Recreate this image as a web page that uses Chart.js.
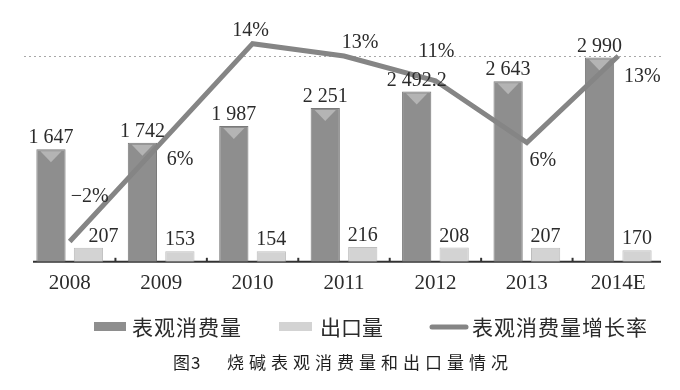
<!DOCTYPE html>
<html>
<head>
<meta charset="utf-8">
<script src="https://cdn.jsdelivr.net/npm/chart.js@4.4.1/dist/chart.umd.min.js"></script>
<style>
  html, body { margin: 0; padding: 0; background: #fff; }
  #wrap { width: 680px; height: 390px; }
</style>
</head>
<body>
<div id="wrap"><canvas id="chart"></canvas></div>
<script>
// 烧碱表观消费量和出口量 (万t) 及表观消费量增长率 (%)
const years = ['2008', '2009', '2010', '2011', '2012', '2013', '2014E'];
const consumption = [1647, 1742, 1987, 2251, 2492.2, 2643, 2990];
const exportVol = [207, 153, 154, 216, 208, 207, 170];
const growth = [-2, 6, 14, 13, 11, 6, 13];

const seriesNames = ['表观消费量', '出口量', '表观消费量增长率'];
const caption = ['图3', '烧碱表观消费量和出口量情况'];

const TEXT = '#2b2b2b';
const DARK = '#8e8e8e';
const LIGHT = '#d3d3d3';
const LINE = '#858585';

// 1 647 / 2 492.2 style
const fmt = v => {
    const parts = String(v).split('.');
    parts[0] = parts[0].replace(/\B(?=(\d{3})+(?!\d))/g, ' ');
    return parts.join('.');
};
const fmtPct = v => (v < 0 ? '\u2212' + Math.abs(v) : v) + '%';

// hand placed percent labels, offset from the point
const pctOffsets = [[20, -47], [19, 15], [-2, -15], [16, -15], [1, -31], [16, 16], [24, 19]];

const drawSpaced = (ctx, text, x, y, spacing) => {
    for (const ch of text) {
        ctx.fillText(ch, x, y);
        x += ctx.measureText(ch).width + spacing;
    }
    return x;
};

const decorPlugin = {
    id: 'decor',
    beforeDatasetsDraw(chart) {
        const ctx = chart.ctx;
        const xs = chart.scales.x;
        const base = chart.chartArea.bottom;
        ctx.save();
        // axis line
        ctx.strokeStyle = '#333';
        ctx.lineWidth = 2;
        ctx.beginPath();
        ctx.moveTo(33, base);
        ctx.lineTo(661, base);
        ctx.stroke();
        // small marks between categories
        for (let i = 0; i < years.length - 1; i++) {
            const x = (xs.getPixelForValue(i) + xs.getPixelForValue(i + 1)) / 2;
            ctx.beginPath();
            ctx.moveTo(x, base);
            ctx.lineTo(x, base - 4);
            ctx.stroke();
        }
        ctx.restore();
    },
    afterDatasetsDraw(chart) {
        const ctx = chart.ctx;
        ctx.save();
        ctx.fillStyle = TEXT;
        ctx.font = '20px "Liberation Serif"';
        ctx.textAlign = 'center';
        ctx.textBaseline = 'alphabetic';
        [0, 1].forEach(di => {
            chart.getDatasetMeta(di).data.forEach((bar, i) => {
                const v = chart.data.datasets[di].data[i];
                const dx = (di === 1 && i === 0) ? 15 : 0;
                ctx.fillText(fmt(v), bar.x + dx, bar.y - 6);
            });
        });
        chart.getDatasetMeta(2).data.forEach((pt, i) => {
            const [dx, dy] = pctOffsets[i];
            ctx.fillText(fmtPct(growth[i]), pt.x + dx, pt.y + dy + 7);
        });
        ctx.restore();
    },
    afterDraw(chart) {
        const ctx = chart.ctx;
        ctx.save();
        // legend
        const ly = 327;
        ctx.fillStyle = DARK;
        ctx.fillRect(94, ly - 5, 32, 9);
        ctx.fillStyle = LIGHT;
        ctx.fillRect(279, ly - 5, 33, 9);
        ctx.strokeStyle = LINE;
        ctx.lineWidth = 5;
        ctx.lineCap = 'round';
        ctx.beginPath();
        ctx.moveTo(432, ly);
        ctx.lineTo(466, ly);
        ctx.stroke();
        ctx.fillStyle = TEXT;
        ctx.font = '21px "Noto Sans CJK SC"';
        ctx.textAlign = 'left';
        ctx.textBaseline = 'middle';
        drawSpaced(ctx, seriesNames[0], 132, ly, 1);
        drawSpaced(ctx, seriesNames[1], 320, ly, 0);
        drawSpaced(ctx, seriesNames[2], 472, ly, 1);
        // caption
        ctx.font = '17px "Noto Sans CJK SC"';
        ctx.fillStyle = '#1f1f1f';
        drawSpaced(ctx, caption[0], 173, 363, 1);
        drawSpaced(ctx, caption[1], 227, 363, 5);
        ctx.restore();
    }
};

// light notch at the top of the dark bars, as in the printed figure
const notchPlugin = {
    id: 'notch',
    afterDatasetDraw(chart, args) {
        if (args.index !== 0) return;
        const ctx = chart.ctx;
        ctx.save();
        ctx.fillStyle = '#b4b4b4';
        args.meta.data.forEach(bar => {
            const half = bar.width / 2;
            ctx.beginPath();
            ctx.moveTo(bar.x - half + 4, bar.y + 2);
            ctx.lineTo(bar.x + half - 4, bar.y + 2);
            ctx.lineTo(bar.x, bar.y + 13);
            ctx.closePath();
            ctx.fill();
        });
        ctx.restore();
    }
};

new Chart(document.getElementById('chart'), {
    type: 'bar',
    data: {
        labels: years,
        datasets: [
            {
                label: seriesNames[0],
                data: consumption,
                backgroundColor: DARK,
                borderColor: '#7a7a7a',
                borderWidth: 1,
                yAxisID: 'y',
                order: 2
            },
            {
                label: seriesNames[1],
                data: exportVol,
                backgroundColor: LIGHT,
                borderColor: '#bdbdbd',
                borderWidth: 1,
                yAxisID: 'y',
                order: 2
            },
            {
                label: seriesNames[2],
                data: growth,
                type: 'line',
                borderColor: LINE,
                borderWidth: 5,
                pointRadius: 0,
                tension: 0,
                fill: false,
                yAxisID: 'y1',
                order: 0
            }
        ]
    },
    options: {
        responsive: true,
        maintainAspectRatio: false,
        animation: false,
        categoryPercentage: 0.82,
        barPercentage: 0.78,
        layout: { padding: { top: 0, left: 24, right: 16, bottom: 85 } },
        plugins: {
            legend: { display: false },
            title: { display: false },
            tooltip: { enabled: false }
        },
        scales: {
            x: {
                offset: true,
                grid: { display: false, drawTicks: false, tickLength: 0 },
                border: { display: false },
                ticks: {
                    color: TEXT,
                    padding: 9,
                    font: { family: '"Liberation Serif"', size: 21 }
                }
            },
            y: {
                display: true,
                min: 0,
                max: 3833,
                afterBuildTicks: axis => { axis.ticks = [{ value: 3000 }]; },
                ticks: { display: false },
                border: { display: false, dash: [2, 3] },
                grid: { color: '#a8a8a8', lineWidth: 1, drawTicks: false, tickLength: 0 },
                afterFit: axis => { axis.width = 0; }
            },
            y1: {
                display: false,
                position: 'right',
                min: -3.64,
                max: 17.53
            }
        }
    },
    plugins: [notchPlugin, decorPlugin]
});
</script>
</body>
</html>
